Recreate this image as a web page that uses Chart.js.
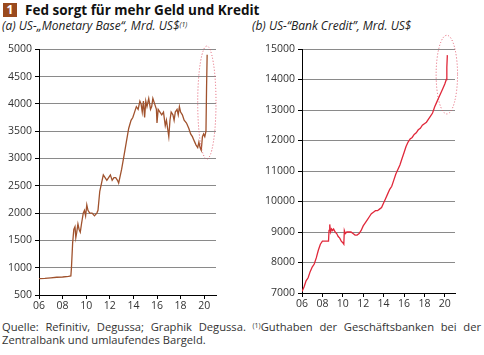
<!DOCTYPE html>
<html>
<head>
<meta charset="utf-8">
<script src="https://cdn.jsdelivr.net/npm/chart.js@4/dist/chart.umd.min.js"></script>
<style>
  html, body { margin:0; padding:0; background:#fff; }
  body { width:484px; height:355px; position:relative; overflow:hidden; font-family:"Open Sans", "Noto Sans", sans-serif; color:#222; }
  .num { position:absolute; left:3px; top:3px; width:14px; height:14px; background:#9a4a1e; color:#fff; font-weight:bold; font-size:12px; line-height:14px; text-align:center; }
  .title { position:absolute; left:25px; top:0px; font-weight:bold; font-size:13.5px; line-height:20px; color:#111; }
  .sub { position:absolute; top:18px; font-style:italic; font-size:12px; line-height:16px; color:#222; }
  .sub sup { font-size:7px; vertical-align:top; position:relative; top:-1px; }
  canvas { position:absolute; }
  .foot { position:absolute; left:2px; top:320px; width:479px; font-size:11.2px; line-height:13px; color:#333; text-align:justify; text-align-last:left; }
  .foot sup { font-size:7px; vertical-align:top; position:relative; top:-1px; }
</style>
</head>
<body>
<div class="num">1</div>
<div class="title">Fed sorgt für mehr Geld und Kredit</div>
<div class="sub" style="left:2px">(a) US-„Monetary Base“, Mrd. US$<sup>(1)</sup></div>
<div class="sub" style="left:252px">(b) US-“Bank Credit”, Mrd. US$</div>
<canvas id="cA" width="226" height="275" style="left:0px;top:40px"></canvas>
<canvas id="cB" width="234" height="285" style="left:250px;top:30px"></canvas>
<div class="foot">Quelle: Refinitiv, Degussa; Graphik Degussa. <sup>(1)</sup>Guthaben der Geschäftsbanken bei der Zentralbank und umlaufendes Bargeld.</div>
<script>
// ---- Data ----
const xTickValues = [2006, 2008, 2010, 2012, 2014, 2016, 2018, 2020];
const xTickLabels = ['06', '08', '10', '12', '14', '16', '18', '20'];

const yearsA = [2006.0,2006.5,2007.0,2007.5,2008.0,2008.5,2008.7,2008.75,2008.85,2008.95,2009.05,2009.12,2009.2,2009.3,2009.4,2009.5,2009.6,2009.75,2009.85,2009.95,2010.05,2010.15,2010.3,2010.5,2010.7,2010.9,2011.0,2011.15,2011.3,2011.45,2011.6,2011.75,2011.9,2012.05,2012.2,2012.35,2012.5,2012.65,2012.75,2012.85,2013.0,2013.2,2013.4,2013.6,2013.8,2013.95,2014.1,2014.25,2014.4,2014.55,2014.65,2014.75,2014.85,2014.95,2015.05,2015.15,2015.3,2015.45,2015.55,2015.65,2015.8,2015.95,2016.0,2016.1,2016.25,2016.4,2016.55,2016.7,2016.8,2016.9,2017.0,2017.1,2017.2,2017.35,2017.45,2017.55,2017.7,2017.8,2017.9,2018.0,2018.15,2018.3,2018.5,2018.7,2018.85,2019.0,2019.1,2019.2,2019.3,2019.45,2019.55,2019.65,2019.75,2019.85,2019.95,2020.05,2020.15,2020.2,2020.25];
const monetaryBase = [800,805,815,825,830,840,850,1000,1450,1700,1750,1550,1650,1800,1700,1650,1800,2000,2050,1950,2150,2050,2000,2000,1950,2000,2050,2400,2550,2700,2650,2600,2650,2700,2600,2650,2650,2600,2550,2650,2800,3050,3300,3550,3700,3750,3850,3950,3900,4050,4000,3850,4050,3750,4050,3950,4100,3900,3950,4100,4000,3900,3650,3900,3850,3800,3850,3600,3700,3550,3400,3700,3850,3800,3700,3850,3900,3800,3950,3850,3800,3700,3650,3550,3450,3400,3350,3300,3250,3200,3300,3200,3150,3400,3450,3400,3500,4300,4900];

const yearsB = [2006.0,2006.2,2006.4,2006.6,2006.8,2007.0,2007.2,2007.4,2007.6,2007.8,2008.0,2008.2,2008.4,2008.6,2008.65,2008.72,2008.8,2008.9,2009.0,2009.1,2009.25,2009.4,2009.55,2009.7,2009.85,2010.0,2010.1,2010.15,2010.25,2010.4,2010.6,2010.8,2011.0,2011.2,2011.4,2011.6,2011.8,2012.0,2012.2,2012.4,2012.6,2012.8,2013.0,2013.2,2013.4,2013.6,2013.8,2014.0,2014.2,2014.4,2014.6,2014.8,2015.0,2015.2,2015.4,2015.6,2015.8,2016.0,2016.2,2016.4,2016.6,2016.8,2017.0,2017.2,2017.4,2017.6,2017.8,2018.0,2018.2,2018.4,2018.6,2018.8,2019.0,2019.2,2019.4,2019.6,2019.8,2020.0,2020.15,2020.2,2020.25];
const bankCredit = [7050,7200,7400,7500,7700,7850,7950,8150,8400,8600,8700,8700,8700,8700,9050,9250,9000,9100,9050,9100,9000,8950,8850,8800,8700,8650,8600,9050,8950,9000,9000,9000,8950,8900,8900,8950,9050,9200,9300,9400,9500,9600,9650,9700,9700,9750,9800,9950,10100,10250,10400,10500,10700,10900,11050,11200,11400,11600,11800,11950,12050,12100,12200,12250,12350,12400,12500,12550,12600,12700,12800,12900,13100,13250,13400,13550,13700,13850,14000,14400,14800];

const yTicksA = [500,1000,1500,2000,2500,3000,3500,4000,4500,5000];
const yTicksB = [7000,8000,9000,10000,11000,12000,13000,14000,15000];

// highlight ellipses (data units)
const ellipseA = { x1: 2019.45, x2: 2021.0, y1: 2990, y2: 5060 };
const ellipseB = { x1: 2019.15, x2: 2021.25, y1: 12870, y2: 15450 };

// ---- Plugin: dotted ellipse ----
const ellipsePlugin = {
  id: 'ellipse',
  afterDatasetsDraw(chart, args, opts) {
    const e = opts.box; if (!e) return;
    const xs = chart.scales.x, ys = chart.scales.y;
    const px1 = xs.getPixelForValue(e.x1), px2 = xs.getPixelForValue(e.x2);
    const py1 = ys.getPixelForValue(e.y1), py2 = ys.getPixelForValue(e.y2);
    const ctx = chart.ctx;
    ctx.save();
    ctx.beginPath();
    ctx.ellipse((px1+px2)/2, (py1+py2)/2, Math.abs(px2-px1)/2, Math.abs(py2-py1)/2, 0, 0, Math.PI*2);
    ctx.setLineDash([1, 2]);
    ctx.lineWidth = 1;
    ctx.strokeStyle = '#e0566a';
    ctx.stroke();
    ctx.restore();
  }
};

function makeChart(id, xs, ys, color, yTicks, ymin, ymax, yAxisWidth, pad, ellipse) {
  const data = xs.map((x, i) => ({ x: x, y: ys[i] }));
  return new Chart(document.getElementById(id), {
    type: 'line',
    data: { datasets: [{ data: data, borderColor: color, borderWidth: 1.3, pointRadius: 0, tension: 0, fill: false }] },
    options: {
      responsive: false, animation: false, devicePixelRatio: 1,
      layout: { padding: pad },
      plugins: { legend: { display: false }, tooltip: { enabled: false }, ellipse: { box: ellipse } },
      scales: {
        x: {
          type: 'linear', min: 2006, max: 2021,
          afterBuildTicks: s => { s.ticks = xTickValues.map(v => ({ value: v })); },
          afterFit: s => { s.height = 20; },
          ticks: { callback: (v) => xTickLabels[xTickValues.indexOf(v)], color: '#333', font: { family: 'Open Sans', size: 10.5 }, padding: 1, maxRotation: 0, autoSkip: false },
          grid: { drawOnChartArea: false, drawTicks: true, tickLength: 4, tickColor: '#000' },
          border: { color: '#000', width: 1 }
        },
        y: {
          min: ymin, max: ymax,
          afterBuildTicks: s => { s.ticks = yTicks.map(v => ({ value: v })); },
          afterFit: s => { s.width = yAxisWidth; },
          ticks: { callback: (v) => String(v), color: '#333', font: { family: 'Open Sans', size: 10.5 }, padding: 3 },
          grid: { color: '#8a8a8a', lineWidth: 1, drawTicks: true, tickLength: 4, tickColor: '#000' },
          border: { color: '#000', width: 1 }
        }
      }
    },
    plugins: [ellipsePlugin]
  });
}

makeChart('cA', yearsA, monetaryBase, '#a0522d', yTicksA, 500, 5000, 39, { top: 7, right: 10, left: 0, bottom: 0 }, ellipseA);
makeChart('cB', yearsB, bankCredit, '#e0283a', yTicksB, 7000, 15000, 52, { top: 19, right: 29, left: 0, bottom: 2 }, ellipseB);
</script>
</body>
</html>
